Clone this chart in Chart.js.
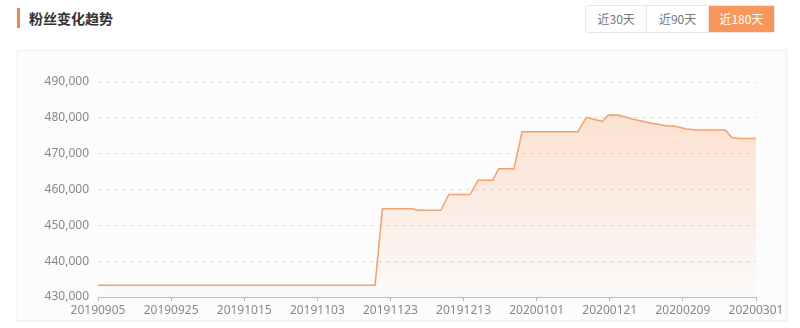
<!DOCTYPE html>
<html>
<head>
<meta charset="utf-8">
<script src="https://cdn.jsdelivr.net/npm/chart.js@4"></script>
<style>
    html, body { margin: 0; padding: 0; background: #fff; }
    body { width: 800px; height: 328px; position: relative; overflow: hidden; font-family: "Noto Sans CJK SC", "Noto Sans", sans-serif; }
    .title { position: absolute; left: 17px; top: 8px; height: 20px; line-height: 20px; padding-left: 9px; font-size: 14px; font-weight: bold; color: #333; border-left: 3px solid #f0874a; }
    .tabs { position: absolute; left: 585px; top: 5px; width: 190px; height: 28px; display: flex; border: 1px solid #e8e8e8; box-sizing: border-box; border-radius: 2px; }
    .tab { flex: 1; text-align: center; line-height: 26px; font-size: 12px; color: #777; border-right: 1px solid #e8e8e8; }
    .tab:last-child { border-right: none; }
    .tab.active { background: #f8965c; color: #fff; flex: 1.08; }
    .card { position: absolute; left: 17px; top: 50px; width: 770px; height: 271px; background: #fcfcfd; border: 1px solid #efefef; box-sizing: border-box; box-shadow: 0 1px 3px rgba(0,0,0,0.04); }
    .card canvas { position: absolute; left: 0; top: 0; }
</style>
</head>
<body>
<div class="title">粉丝变化趋势</div>
<div class="tabs">
    <div class="tab">近30天</div>
    <div class="tab">近90天</div>
    <div class="tab active">近180天</div>
</div>
<div class="card"><canvas id="fans-chart" width="768" height="269"></canvas></div>
<script>
// Etiquetas del eje X (una cada ~20 días)
const tickDates = ['20190905', '20190925', '20191015', '20191103', '20191123',
                   '20191213', '20200101', '20200121', '20200209', '20200301'];

// Posición de cada punto en unidades de etiqueta (0 = 20190905, 9 = 20200301)
const fanPos = [0, 3.79, 3.89, 4.30, 4.38, 4.69, 4.80, 5.09, 5.20, 5.40,
                5.48, 5.69, 5.80, 6.56, 6.68, 6.90, 6.98, 7.13, 7.31, 7.54,
                7.77, 7.88, 8.05, 8.18, 8.58, 8.67, 8.77, 9.0];

// Número de fans en cada punto
const fanCount = [433300, 433300, 454600, 454600, 454200, 454200, 458600, 458600, 462600, 462600,
                  465800, 465800, 476100, 476100, 480100, 479000, 480800, 480700, 479700, 478600,
                  477800, 477700, 476900, 476600, 476600, 474500, 474200, 474200];

// Eje Y
const yMin = 430000;
const yMax = 490000;
const yStep = 10000;

const points = fanPos.map((x, i) => ({ x: x, y: fanCount[i] }));

const element = document.getElementById('fans-chart');

new Chart(element, {
    type: 'line',
    data: {
        datasets: [{
            label: '粉丝数',
            data: points,
            borderColor: '#f2a06c',
            borderWidth: 1.5,
            pointRadius: 0,
            tension: 0,
            fill: 'start',
            backgroundColor: function(context) {
                const area = context.chart.chartArea;
                if (!area) return 'rgba(248,160,110,0.2)';
                const g = context.chart.ctx.createLinearGradient(0, area.top, 0, area.bottom);
                g.addColorStop(0, 'rgba(250,170,120,0.38)');
                g.addColorStop(1, 'rgba(250,170,120,0.03)');
                return g;
            }
        }]
    },
    options: {
        responsive: false,
        animation: false,
        layout: {
            padding: { top: 31, right: 30, left: 0, bottom: 0 }
        },
        plugins: {
            legend: { display: false },
            tooltip: { enabled: false }
        },
        scales: {
            x: {
                type: 'linear',
                min: 0,
                max: tickDates.length - 1,
                afterFit: function(scale) { scale.height = 23; },
                ticks: {
                    stepSize: 1,
                    autoSkip: false,
                    maxRotation: 0,
                    padding: 2,
                    color: '#888',
                    font: { family: 'Noto Sans', size: 12 },
                    callback: function(value) { return tickDates[value]; }
                },
                grid: {
                    drawOnChartArea: false,
                    drawTicks: true,
                    tickLength: 4,
                    color: '#bbb'
                },
                border: { display: true, color: '#bbb' }
            },
            y: {
                min: yMin,
                max: yMax,
                afterFit: function(scale) { scale.width = 80; },
                ticks: {
                    stepSize: yStep,
                    padding: 9,
                    color: '#888',
                    font: { family: 'Noto Sans', size: 12 },
                    callback: function(value) { return value.toLocaleString('en-US'); }
                },
                grid: {
                    drawTicks: false,
                    color: function(ctx) { return ctx.index === 0 ? 'rgba(0,0,0,0)' : '#dedede'; }
                },
                border: { display: false, dash: [4, 4] }
            }
        }
    }
});
</script>
</body>
</html>
